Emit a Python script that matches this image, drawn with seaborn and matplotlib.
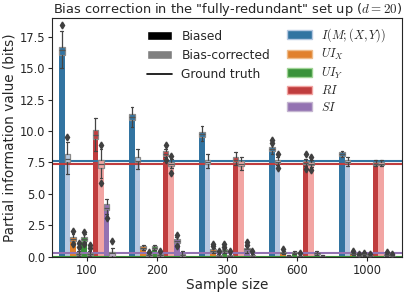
import numpy as np
import pandas as pd
import seaborn as sns
import matplotlib.pyplot as plt
from matplotlib.patches import Patch
from matplotlib.lines import Line2D

sample_sizes = ['100', '200', '300', '600', '1000']
series = ['I_b', 'I_c', 'UIx_b', 'UIx_c', 'UIy_b', 'UIy_c', 'RI_b', 'RI_c', 'SI_b', 'SI_c']
quantity_labels = [r'$I(M;(X,Y))$', r'$UI_X$', r'$UI_Y$', r'$RI$', r'$SI$']

# rows follow `series`, columns follow `sample_sizes`
bar_mean = [
    [16.4, 11.1, 9.75, 8.6, 8.15],
    [7.8, 7.65, 7.55, 7.55, 7.55],
    [1.45, 0.75, 0.5, 0.35, 0.25],
    [0.25, 0.15, 0.1, 0.05, 0.05],
    [1.45, 0.75, 0.5, 0.35, 0.2],
    [0.25, 0.15, 0.1, 0.05, 0.05],
    [9.7, 8.2, 7.7, 7.45, 7.4],
    [7.4, 7.4, 7.4, 7.4, 7.4],
    [3.9, 1.25, 0.6, 0.3, 0.15],
    [0.3, 0.15, 0.1, 0.05, 0.05],
]
box_med = [
    [16.4, 11.1, 9.75, 8.6, 8.15],
    [7.8, 7.65, 7.55, 7.55, 7.55],
    [1.45, 0.75, 0.5, 0.35, 0.25],
    [0.25, 0.15, 0.1, 0.05, 0.05],
    [1.45, 0.75, 0.5, 0.35, 0.2],
    [0.25, 0.15, 0.1, 0.05, 0.05],
    [9.7, 8.2, 7.7, 7.45, 7.4],
    [7.4, 7.4, 7.4, 7.4, 7.4],
    [3.9, 1.25, 0.6, 0.3, 0.15],
    [0.3, 0.15, 0.1, 0.05, 0.05],
]
box_q1 = [
    [16.0, 10.9, 9.55, 8.45, 8.05],
    [7.5, 7.5, 7.4, 7.45, 7.45],
    [1.25, 0.65, 0.4, 0.28, 0.2],
    [0.15, 0.1, 0.05, 0.02, 0.02],
    [1.25, 0.65, 0.4, 0.28, 0.15],
    [0.15, 0.1, 0.05, 0.02, 0.02],
    [9.4, 8.05, 7.55, 7.35, 7.33],
    [7.1, 7.25, 7.25, 7.3, 7.33],
    [3.7, 1.1, 0.45, 0.22, 0.1],
    [0.1, 0.05, 0.05, 0.02, 0.02],
]
box_q3 = [
    [16.7, 11.35, 9.95, 8.7, 8.3],
    [8.15, 7.9, 7.7, 7.7, 7.7],
    [1.6, 0.85, 0.6, 0.42, 0.3],
    [0.35, 0.2, 0.15, 0.08, 0.08],
    [1.6, 0.85, 0.6, 0.42, 0.25],
    [0.35, 0.2, 0.15, 0.08, 0.08],
    [10.05, 8.4, 7.9, 7.6, 7.5],
    [7.7, 7.55, 7.6, 7.5, 7.5],
    [4.2, 1.4, 0.7, 0.35, 0.2],
    [0.4, 0.25, 0.15, 0.08, 0.08],
]
whisk_lo = [
    [15.0, 10.3, 9.2, 8.2, 7.97],
    [6.6, 7.0, 7.1, 7.3, 7.26],
    [1.15, 0.55, 0.3, 0.2, 0.15],
    [0.05, 0.02, 0.0, 0.0, 0.0],
    [1.15, 0.55, 0.3, 0.2, 0.1],
    [0.05, 0.02, 0.0, 0.0, 0.0],
    [8.4, 7.9, 7.3, 7.2, 7.2],
    [6.3, 7.05, 6.9, 7.15, 7.2],
    [3.4, 0.95, 0.35, 0.15, 0.05],
    [0.0, 0.0, 0.0, 0.0, 0.0],
]
whisk_hi = [
    [17.9, 11.9, 10.4, 8.9, 8.44],
    [9.1, 8.57, 8.2, 7.9, 7.9],
    [1.8, 0.95, 0.7, 0.5, 0.35],
    [0.5, 0.3, 0.25, 0.15, 0.15],
    [1.8, 0.95, 0.7, 0.5, 0.3],
    [0.5, 0.3, 0.25, 0.15, 0.15],
    [11.0, 8.6, 8.3, 7.75, 7.7],
    [8.6, 7.8, 7.9, 7.7, 7.7],
    [4.6, 1.55, 0.85, 0.45, 0.25],
    [0.7, 0.5, 0.25, 0.15, 0.15],
]
# (series, sample size, value)
fliers = [
    (0, 0, 18.45), (1, 0, 9.55), (2, 0, 2.1), (2, 0, 1.0), (3, 0, 0.8), (3, 0, 1.1),
    (4, 0, 2.0), (4, 0, 1.0), (5, 0, 0.75), (5, 0, 0.95), (7, 0, 8.9), (7, 0, 5.85),
    (8, 0, 3.1), (9, 0, 1.3),
    (3, 1, 0.4), (5, 1, 0.45), (6, 1, 8.9), (6, 1, 7.7), (7, 1, 8.05), (7, 1, 6.7),
    (8, 1, 1.75), (8, 1, 0.85),
    (2, 2, 0.85), (2, 2, 1.05), (3, 2, 0.45), (4, 2, 0.8), (4, 2, 1.05), (5, 2, 0.45),
    (8, 2, 0.95), (8, 2, 1.15), (9, 2, 0.45),
    (0, 3, 9.3), (0, 3, 9.05), (1, 3, 8.2), (1, 3, 7.1), (2, 3, 0.65), (5, 3, 0.3),
    (6, 3, 8.2), (6, 3, 7.0), (7, 3, 7.95), (7, 3, 6.9),
    (2, 4, 0.5), (3, 4, 0.25), (4, 4, 0.35), (5, 4, 0.25), (8, 4, 0.4), (9, 4, 0.25),
]
truth_I = 7.65
truth_UI = 0.0
truth_RI = 7.39
truth_SI = 0.3

rows = []
for s, name in enumerate(series):
    for j, size in enumerate(sample_sizes):
        rows.append([size, name, bar_mean[s][j]])
df = pd.DataFrame(rows, columns=['size', 'series', 'value'])

sns.set_style('ticks')
plt.rcParams['mathtext.fontset'] = 'cm'
palette = sns.color_palette('tab20', 10)

fig, ax = plt.subplots(figsize=(4.07, 2.94), dpi=100)
fig.subplots_adjust(left=0.128, right=0.988, bottom=0.126, top=0.94)

sns.barplot(data=df, x='size', y='value', hue='series', hue_order=series,
            order=sample_sizes, palette=palette, errorbar=None, legend=False,
            width=0.8, linewidth=0, ax=ax, zorder=1)

# Ground truth lines (drawn over bars, under boxes)
ax.axhline(truth_UI, color=sns.desaturate(palette[2], 0.75), lw=1.5, zorder=2)
ax.axhline(truth_UI, color=sns.desaturate(palette[4], 0.75), lw=1.5, zorder=2)
ax.axhline(truth_SI, color=sns.desaturate(palette[8], 0.75), lw=1.5, zorder=2)
ax.axhline(truth_I, color=sns.desaturate(palette[0], 0.75), lw=1.5, zorder=2)
ax.axhline(truth_RI, color=sns.desaturate(palette[6], 0.75), lw=1.5, zorder=2)

# Boxes at bar positions
step = 0.8 / len(series)
for p in list(ax.patches):
    c = p.get_x() + p.get_width() / 2
    j = int(round(c))
    s = int(round((c - j + 0.4 - step / 2) / step))
    stats = [{
        'med': box_med[s][j], 'q1': box_q1[s][j], 'q3': box_q3[s][j],
        'whislo': whisk_lo[s][j], 'whishi': whisk_hi[s][j],
        'fliers': [f[2] for f in fliers if f[0] == s and f[1] == j],
    }]
    ax.bxp(stats, positions=[c], widths=p.get_width(), patch_artist=True,
           manage_ticks=False, zorder=3,
           boxprops=dict(facecolor=p.get_facecolor(), edgecolor='#8a8a8a', lw=0.9),
           medianprops=dict(color='#555555', lw=0.9),
           whiskerprops=dict(color='#444444', lw=0.9),
           capprops=dict(color='#444444', lw=0.9),
           flierprops=dict(marker='d', markerfacecolor='#3f3f3f',
                           markeredgecolor='#3f3f3f', markersize=3.5))

ax.set_xlim(-0.5, len(sample_sizes) - 0.5)
ax.set_ylim(0, 19.0)
ax.set_yticks(np.arange(0, 17.6, 2.5))
ax.tick_params(labelsize=8.3, length=3, pad=2)
ax.set_xlabel('Sample size', fontsize=9.8, labelpad=1)
ax.set_ylabel('Partial information value (bits)', fontsize=9.8, labelpad=2)
ax.set_title('Bias correction in the "fully-redundant" set up ($d=20$)',
             fontsize=9.4, pad=0.5)

leg1 = ax.legend(handles=[Patch(facecolor='black', label='Biased'),
                          Patch(facecolor='gray', label='Bias-corrected'),
                          Line2D([], [], color='black', lw=1.2, label='Ground truth')],
                 loc='upper left', bbox_to_anchor=(0.24, 0.995), frameon=False,
                 fontsize=8.8, labelspacing=0.5, handlelength=2.0)
ax.add_artist(leg1)
ax.legend(handles=[Patch(facecolor=sns.desaturate(palette[2 * k], 0.75),
                         edgecolor=sns.desaturate(palette[2 * k + 1], 0.75),
                         label=lab)
                   for k, lab in enumerate(quantity_labels)],
          loc='upper left', bbox_to_anchor=(0.64, 1.01), frameon=False,
          fontsize=8.8, labelspacing=0.28, handlelength=2.0)

fig.savefig('out.png', dpi=100)
